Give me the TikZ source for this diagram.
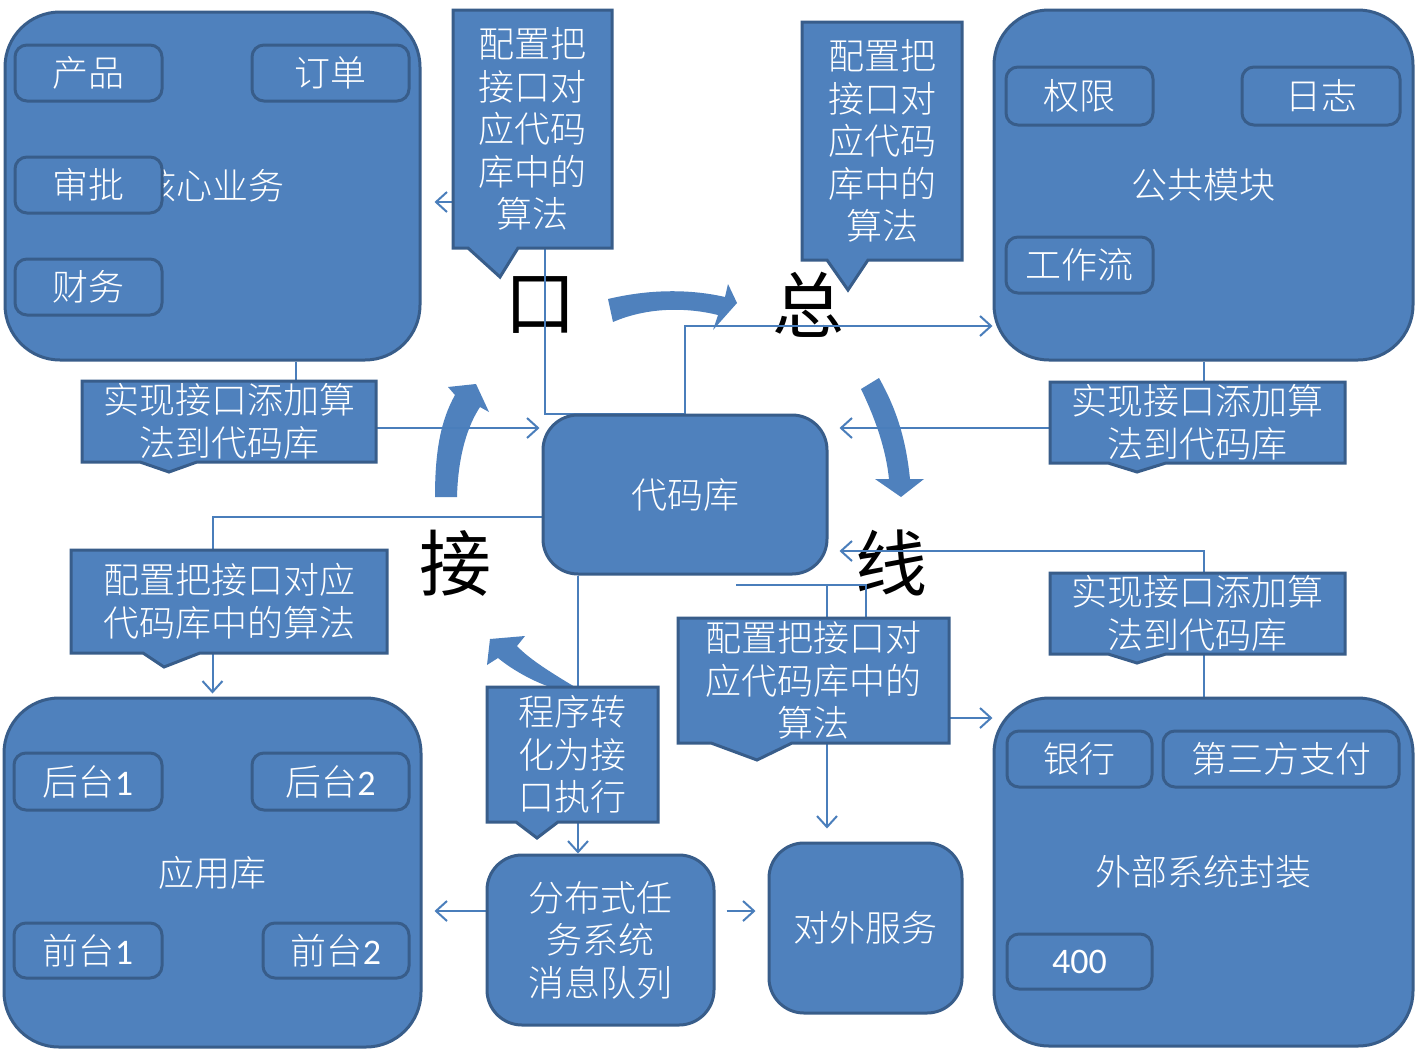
\documentclass[tikz,border=0pt]{standalone}
\usepackage{fontspec}
\setmainfont{Noto Sans CJK SC}[UprightFont={* Light}]
\newfontfamily\hzfont{Noto Sans CJK SC}
\newfontfamily\calfont{Carlito}
\usetikzlibrary{arrows.meta,calc}
\pgfdeclarelayer{bg}
\pgfdeclarelayer{lines}
\pgfsetlayers{bg,lines,main}
\definecolor{bfill}{HTML}{4F81BD}
\definecolor{bline}{HTML}{385D8A}
\definecolor{cline}{HTML}{4A7EBB}
\tikzset{
  txt/.style={text=white, align=center, inner sep=0pt, font=\fontsize{36}{42.5}\selectfont},
  big/.style={txt, rectangle, rounded corners=55pt, fill=bfill, draw=bline, line width=3pt},
  mid/.style={txt, rectangle, rounded corners=35pt, fill=bfill, draw=bline, line width=3pt},
  small/.style={txt, rectangle, rounded corners=12pt, fill=bfill, draw=bline, line width=3pt},
  callout/.style={fill=bfill, draw=bline, line width=3pt, line join=miter},
  ctext/.style={txt},
  conn/.style={draw=cline, line width=2pt},
  arr/.style={conn, -{Straight Barb[length=11pt,width=20pt]}},
  hanzi/.style={text=black, inner sep=0pt, font=\hzfont\fontsize{72}{72}\selectfont},
  fat/.style={fill=bfill},
}
\begin{document}
\begin{tikzpicture}[x=1pt,y=-1pt]
\useasboundingbox (0,0) rectangle (1422,1061);

% ---------- big boxes ----------
\node[big, minimum width=415pt, minimum height=348pt] (core) at (212.5,186) {核心业务};
\node[small, minimum width=147pt, minimum height=56pt] (cp) at (88.5,73) {产品};
\node[small, minimum width=157pt, minimum height=56pt] (dd) at (330.5,73) {订单};
\node[small, minimum width=147pt, minimum height=56pt] (sp) at (88.5,185) {审批};
\node[small, minimum width=147pt, minimum height=56pt] (cw) at (88.5,287) {财务};

\node[big, minimum width=419pt, minimum height=350pt] (pub) at (1203.5,185) {公共模块};
\node[small, minimum width=147pt, minimum height=58pt] (qx) at (1079.5,96) {权限};
\node[small, minimum width=158pt, minimum height=58pt] (rz) at (1321,96) {日志};
\node[small, minimum width=147pt, minimum height=56pt] (gzl) at (1079.5,265) {工作流};

\node[big, minimum width=417pt, minimum height=349pt] (app) at (212.5,872.5) {应用库};
\node[small, minimum width=148pt, minimum height=57pt] (ht1) at (88,781.5) {后台{\calfont 1}};
\node[small, minimum width=157pt, minimum height=57pt] (ht2) at (330.5,781.5) {后台{\calfont 2}};
\node[small, minimum width=148pt, minimum height=55pt] (qt1) at (88,950.5) {前台{\calfont 1}};
\node[small, minimum width=146pt, minimum height=55pt] (qt2) at (336,950.5) {前台{\calfont 2}};

\node[big, minimum width=419pt, minimum height=348pt] (ext) at (1203.5,872) {外部系统封装};
\node[small, minimum width=145pt, minimum height=56pt] (yh) at (1079.5,759) {银行};
\node[small, minimum width=236pt, minimum height=56pt] (dsf) at (1281,759) {第三方支付};
\node[small, minimum width=145pt, minimum height=55pt] (n400) at (1079.5,961.5) {\calfont 400};

\node[mid, minimum width=284pt, minimum height=159pt] (cdk) at (685,494.5) {代码库};
\node[mid, minimum width=227pt, minimum height=170pt] (dist) at (600.5,940) {分布式任\\务系统\\消息队列};
\node[mid, minimum width=193pt, minimum height=170pt] (svc) at (865.5,928) {对外服务};

% ---------- callouts ----------
\path[callout] (453,10) -- (612,10) -- (612,248) -- (518,248) -- (500,277) -- (468,248) -- (453,248) -- cycle;
\node[ctext, minimum width=159pt, minimum height=238pt] (c1) at (532.5,129) {配置把\\接口对\\应代码\\库中的\\算法};

\path[callout] (802,22) -- (962,22) -- (962,260) -- (868,260) -- (848,290) -- (827,260) -- (802,260) -- cycle;
\node[ctext, minimum width=160pt, minimum height=238pt] (c2) at (882,141) {配置把\\接口对\\应代码\\库中的\\算法};

\path[callout] (82,381) -- (376,381) -- (376,462) -- (197,462) -- (169,472) -- (140,462) -- (82,462) -- cycle;
\node[ctext, minimum width=294pt, minimum height=81pt] (c3) at (229,421.5) {实现接口添加算\\法到代码库};

\path[callout] (1050,382) -- (1345,382) -- (1345,463) -- (1166,463) -- (1137,472) -- (1108,463) -- (1050,463) -- cycle;
\node[ctext, minimum width=295pt, minimum height=81pt] (c4) at (1197.5,422.5) {实现接口添加算\\法到代码库};

\path[callout] (1050,573) -- (1345,573) -- (1345,654) -- (1166,654) -- (1137,663) -- (1108,654) -- (1050,654) -- cycle;
\node[ctext, minimum width=295pt, minimum height=81pt] (c5) at (1197.5,613.5) {实现接口添加算\\法到代码库};

\path[callout] (71,550) -- (387,550) -- (387,653) -- (200,653) -- (164,667) -- (143,653) -- (71,653) -- cycle;
\node[ctext, minimum width=316pt, minimum height=103pt] (c6) at (229,601.5) {配置把接口对应\\代码库中的算法};

\path[callout] (678,618) -- (949,618) -- (949,743) -- (792,743) -- (757,760) -- (711,743) -- (678,743) -- cycle;
\node[ctext, minimum width=271pt, minimum height=125pt] (c7) at (813.5,680.5) {配置把接口对\\应代码库中的\\算法};

\path[callout] (487,687) -- (658,687) -- (658,822) -- (558,822) -- (537,838) -- (516,822) -- (487,822) -- cycle;
\node[ctext, minimum width=171pt, minimum height=135pt] (c8) at (572.5,754.5) {程序转\\化为接\\口执行};

% ---------- background: big characters and thick cycle arrows ----------
\begin{pgfonlayer}{bg}
\fill[white] (0,0) rectangle (1422,1061);
\node[hanzi] (h1) at (540,305) {口};
\node[hanzi] (h2) at (808,305) {总};
\node[hanzi] (h3) at (455,563) {接};
\node[hanzi] (h4) at (891,563) {线};
\fill[fat] (608,299) .. controls (650,289) and (690,289) .. (725,297) -- (728,284) -- (737,303) -- (713,330) -- (718,315) .. controls (690,308) and (650,306) .. (613,322) -- cycle;
\fill[fat] (861,389) .. controls (876,420) and (886,450) .. (889,479) -- (875,479) -- (901,497) -- (924,479) -- (910,479) .. controls (906,440) and (897,410) .. (879,378) -- cycle;
\fill[fat] (435,497) .. controls (435,450) and (441,420) .. (455,395) -- (448,387) -- (476,384) -- (489,412) -- (480,407) .. controls (468,425) and (458,455) .. (457,497) -- cycle;
\fill[fat] (580,690) .. controls (555,675) and (530,660) .. (517,646) -- (525,636) -- (490,639) -- (487,665) -- (498,658) .. controls (515,672) and (540,685) .. (560,690) -- cycle;
\end{pgfonlayer}

% ---------- connectors ----------
\coordinate (ka) at (545,202);
\coordinate (kb) at (0,326);
\coordinate (kc) at (296,428);
\coordinate (kd) at (0,428);
\coordinate (ke) at (0,551);
\coordinate (kf) at (0,517);
\coordinate (kg) at (578,0);
\coordinate (kh) at (0,911);
\coordinate (kj) at (736,585);
\coordinate (kj2) at (866,585);
\coordinate (kj3) at (827,0);
\coordinate (kk) at (0,718);
\begin{pgfonlayer}{lines}
\draw[arr, shorten >=13pt] (cdk.north) -| (ka) -- (core.east |- ka);
\draw[arr] (cdk.north) |- (pub.west |- kb);
\draw[arr, shorten >=2pt] (core.south -| kc) |- (cdk.west |- kc);
\draw[arr, shorten >=11pt] (pub.south) |- (cdk.east |- kd);
\draw[arr, shorten >=11pt] (ext.north) |- (cdk.east |- ke);
\draw[arr, shorten >=3pt] (cdk.west |- kf) -| (app.north);
\draw[arr] (cdk.south -| kg) -- (dist.north -| kg);
\draw[arr, shorten >=12pt] (dist.west |- kh) -- (app.east |- kh);
\draw[arr, shorten <=11pt, shorten >=12pt] (dist.east |- kh) -- (svc.west |- kh);
\draw[conn] (kj) -- (kj2) -- (c7.north -| kj2);
\draw[arr, shorten >=13pt] (kj -| kj3) -- (svc.north -| kj3);
\draw[arr] (c7.east |- kk) -- (ext.west |- kk);
\end{pgfonlayer}
\end{tikzpicture}
\end{document}
